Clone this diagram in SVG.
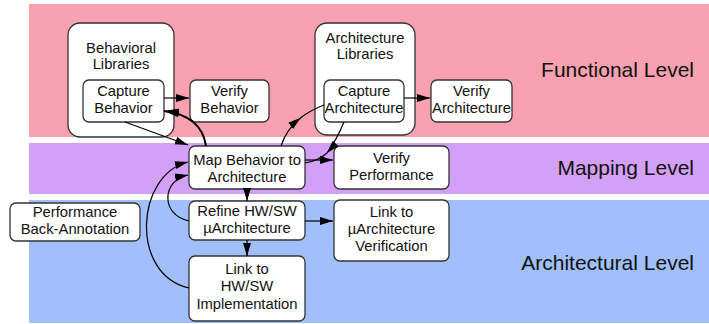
<svg xmlns="http://www.w3.org/2000/svg" width="709" height="324" viewBox="0 0 709 324">
<defs>
<style>
.box{fill:#fff;stroke:#333;stroke-width:1.3}
.t{font-family:"Liberation Sans",Arial,sans-serif;font-size:14.8px;fill:#111;text-anchor:middle}
.lvl{font-family:"Liberation Sans",Arial,sans-serif;font-size:21px;fill:#111;text-anchor:end}
.c{fill:none;stroke:#000;stroke-width:1.2}
.ce{marker-end:url(#ah)}
.cm{marker-mid:url(#ah)}
</style>
<marker id="ah" markerUnits="userSpaceOnUse" markerWidth="14" markerHeight="9" refX="13" refY="4" orient="auto">
<path d="M0,0 L13,4 L0,8 z" fill="#000"/>
</marker>
<marker id="ahb" markerUnits="userSpaceOnUse" markerWidth="16" markerHeight="10" refX="15" refY="4.5" orient="auto">
<path d="M0,0 L15,4.5 L0,9 z" fill="#000"/>
</marker>
</defs>
<g id="bands">
<rect x="29" y="4" width="680" height="133" fill="#F9A1B0"/>
<rect x="29" y="143" width="680" height="51" fill="#D3A0F8"/>
<rect x="29" y="200" width="680" height="123" fill="#A1BFFA"/>
<text class="lvl" x="694" y="77">Functional Level</text>
<text class="lvl" x="694" y="175">Mapping Level</text>
<text class="lvl" x="694" y="270">Architectural Level</text>
</g>
<g id="behavioral-libraries">
<rect class="box" x="68" y="23" width="106" height="114" rx="12"/>
<text class="t" x="121" y="53">Behavioral</text>
<text class="t" x="121" y="69">Libraries</text>
</g>
<g id="capture-behavior">
<rect class="box" x="83" y="80" width="81" height="42" rx="6"/>
<text class="t" x="123.5" y="96">Capture</text>
<text class="t" x="123.5" y="113">Behavior</text>
</g>
<g id="verify-behavior">
<rect class="box" x="190" y="80" width="79" height="42" rx="6"/>
<text class="t" x="229.5" y="96">Verify</text>
<text class="t" x="229.5" y="113">Behavior</text>
</g>
<g id="architecture-libraries">
<rect class="box" x="315" y="23" width="100" height="112" rx="12"/>
<text class="t" x="365" y="43">Architecture</text>
<text class="t" x="365" y="59">Libraries</text>
</g>
<g id="capture-architecture">
<rect class="box" x="324" y="80" width="80" height="42" rx="6"/>
<text class="t" x="364" y="96">Capture</text>
<text class="t" x="364" y="113">Architecture</text>
</g>
<g id="verify-architecture">
<rect class="box" x="431" y="80" width="81" height="42" rx="6"/>
<text class="t" x="471.5" y="96">Verify</text>
<text class="t" x="471.5" y="113">Architecture</text>
</g>
<g id="map-behavior">
<rect class="box" x="189" y="146" width="116" height="43" rx="6"/>
<text class="t" x="247" y="165">Map Behavior to</text>
<text class="t" x="247" y="182">Architecture</text>
</g>
<g id="verify-performance">
<rect class="box" x="334" y="146" width="115" height="43" rx="6"/>
<text class="t" x="391.5" y="163">Verify</text>
<text class="t" x="391.5" y="180">Performance</text>
</g>
<g id="refine-hwsw">
<rect class="box" x="189" y="201" width="116" height="39" rx="6"/>
<text class="t" x="247" y="216">Refine HW/SW</text>
<text class="t" x="247" y="233">µArchitecture</text>
</g>
<g id="link-uarch-verification">
<rect class="box" x="334" y="200" width="115" height="61" rx="6"/>
<text class="t" x="391.5" y="217">Link to</text>
<text class="t" x="391.5" y="234">µArchitecture</text>
<text class="t" x="391.5" y="251">Verification</text>
</g>
<g id="link-hwsw-implementation">
<rect class="box" x="189" y="256" width="116" height="65" rx="6"/>
<text class="t" x="247" y="274">Link to</text>
<text class="t" x="247" y="291">HW/SW</text>
<text class="t" x="247" y="309">Implementation</text>
</g>
<g id="performance-back-annotation">
<rect class="box" x="10" y="203" width="130" height="38" rx="6"/>
<text class="t" x="75" y="217">Performance</text>
<text class="t" x="75" y="234">Back-Annotation</text>
</g>
<g id="connectors">
<path class="c ce" d="M164,98 L189,98"/>
<path class="c ce" d="M125,122 L188,145"/>
<path class="c" style="stroke-width:2;marker-end:url(#ahb)" d="M206,146 C203,125 188,114 164,111"/>
<path class="c cm" d="M281,146 Q286.4,129.2 300.8,117.8 Q310.4,110.2 324,105"/>
<path class="c cm" d="M344,122 Q337,139 327,153 Q318,161 305,163"/>
<path class="c ce" d="M305,160 L333,160"/>
<path class="c ce" d="M404,98 L430,98"/>
<path class="c ce" d="M247,189 L247,201"/>
<path class="c ce" d="M247,240 L247,256"/>
<path class="c ce" d="M305,221 L333,221"/>
<path class="c ce" d="M189,221 C160,215 162,180 188,175"/>
<path class="c ce" d="M189,288 C130,275 135,175 188,162"/>
</g>
</svg>
